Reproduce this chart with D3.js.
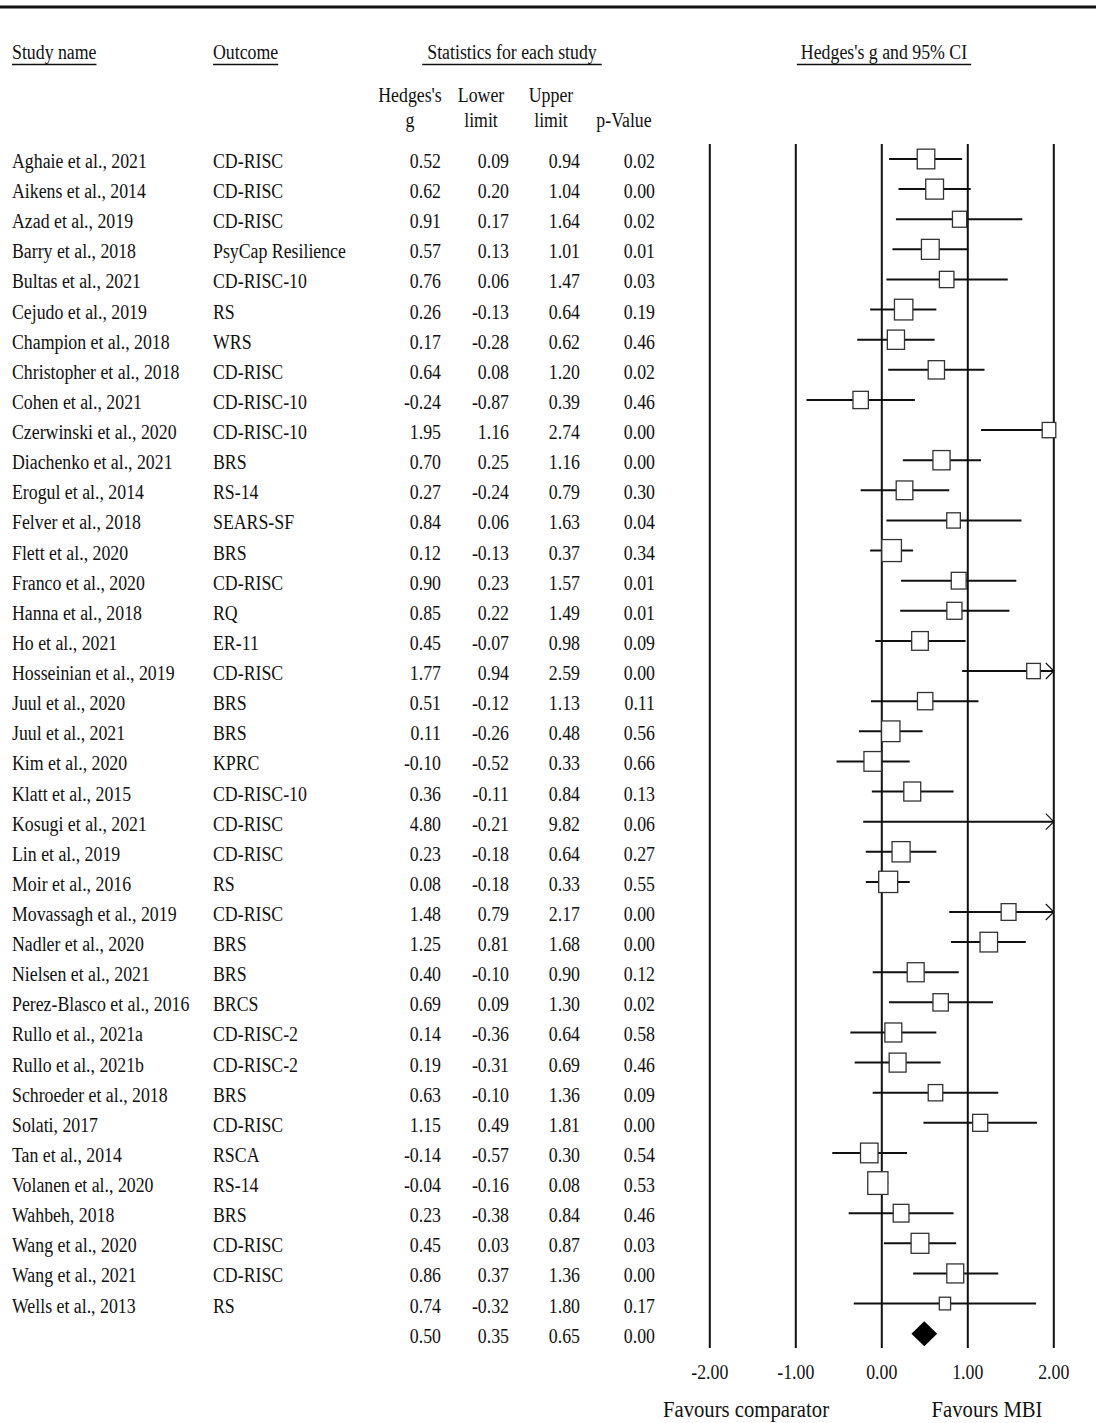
<!DOCTYPE html>
<html>
<head>
<meta charset="utf-8">
<script src="https://cdn.jsdelivr.net/npm/d3@7"></script>
<style>
  html, body { margin: 0; padding: 0; background: #fff; }
  svg { display: block; }
  text { font-family: "Liberation Serif", "Times New Roman", serif; fill: #111; }
</style>
</head>
<body>
<svg id="chart" width="1096" height="1423"></svg>
<script>
// ---------------- DATA ----------------
const studies = [
  "Aghaie et al., 2021", "Aikens et al., 2014", "Azad et al., 2019", "Barry et al., 2018",
  "Bultas et al., 2021", "Cejudo et al., 2019", "Champion et al., 2018", "Christopher et al., 2018",
  "Cohen et al., 2021", "Czerwinski et al., 2020", "Diachenko et al., 2021", "Erogul et al., 2014",
  "Felver et al., 2018", "Flett et al., 2020", "Franco et al., 2020", "Hanna et al., 2018",
  "Ho et al., 2021", "Hosseinian et al., 2019", "Juul et al., 2020", "Juul et al., 2021",
  "Kim et al., 2020", "Klatt et al., 2015", "Kosugi et al., 2021", "Lin et al., 2019",
  "Moir et al., 2016", "Movassagh et al., 2019", "Nadler et al., 2020", "Nielsen et al., 2021",
  "Perez-Blasco et al., 2016", "Rullo et al., 2021a", "Rullo et al., 2021b", "Schroeder et al., 2018",
  "Solati, 2017", "Tan et al., 2014", "Volanen et al., 2020", "Wahbeh, 2018",
  "Wang et al., 2020", "Wang et al., 2021", "Wells et al., 2013"
];
const outcomes = [
  "CD-RISC", "CD-RISC", "CD-RISC", "PsyCap Resilience",
  "CD-RISC-10", "RS", "WRS", "CD-RISC",
  "CD-RISC-10", "CD-RISC-10", "BRS", "RS-14",
  "SEARS-SF", "BRS", "CD-RISC", "RQ",
  "ER-11", "CD-RISC", "BRS", "BRS",
  "KPRC", "CD-RISC-10", "CD-RISC", "CD-RISC",
  "RS", "CD-RISC", "BRS", "BRS",
  "BRCS", "CD-RISC-2", "CD-RISC-2", "BRS",
  "CD-RISC", "RSCA", "RS-14", "BRS",
  "CD-RISC", "CD-RISC", "RS"
];
const hedgesG = [
  0.52, 0.62, 0.91, 0.57, 0.76, 0.26, 0.17, 0.64, -0.24, 1.95,
  0.70, 0.27, 0.84, 0.12, 0.90, 0.85, 0.45, 1.77, 0.51, 0.11,
  -0.10, 0.36, 4.80, 0.23, 0.08, 1.48, 1.25, 0.40, 0.69, 0.14,
  0.19, 0.63, 1.15, -0.14, -0.04, 0.23, 0.45, 0.86, 0.74
];
const lowerLimit = [
  0.09, 0.20, 0.17, 0.13, 0.06, -0.13, -0.28, 0.08, -0.87, 1.16,
  0.25, -0.24, 0.06, -0.13, 0.23, 0.22, -0.07, 0.94, -0.12, -0.26,
  -0.52, -0.11, -0.21, -0.18, -0.18, 0.79, 0.81, -0.10, 0.09, -0.36,
  -0.31, -0.10, 0.49, -0.57, -0.16, -0.38, 0.03, 0.37, -0.32
];
const upperLimit = [
  0.94, 1.04, 1.64, 1.01, 1.47, 0.64, 0.62, 1.20, 0.39, 2.74,
  1.16, 0.79, 1.63, 0.37, 1.57, 1.49, 0.98, 2.59, 1.13, 0.48,
  0.33, 0.84, 9.82, 0.64, 0.33, 2.17, 1.68, 0.90, 1.30, 0.64,
  0.69, 1.36, 1.81, 0.30, 0.08, 0.84, 0.87, 1.36, 1.80
];
const pValue = [
  0.02, 0.00, 0.02, 0.01, 0.03, 0.19, 0.46, 0.02, 0.46, 0.00,
  0.00, 0.30, 0.04, 0.34, 0.01, 0.01, 0.09, 0.00, 0.11, 0.56,
  0.66, 0.13, 0.06, 0.27, 0.55, 0.00, 0.00, 0.12, 0.02, 0.58,
  0.46, 0.09, 0.00, 0.54, 0.53, 0.46, 0.03, 0.00, 0.17
];
// relative weights (%)
const weights = [
  2.97, 3.06, 1.96, 3.06, 2.04, 3.28, 2.85, 2.57, 2.29, 1.79,
  2.85, 2.68, 1.79, 3.71, 2.14, 2.21, 2.68, 1.79, 2.29, 3.28,
  2.97, 2.77, 0.04, 3.16, 3.48, 2.14, 2.97, 2.77, 2.29, 2.77,
  2.77, 2.04, 2.21, 2.97, 3.95, 2.40, 3.06, 2.77, 1.23
];
const summaryG = 0.50, summaryLower = 0.35, summaryUpper = 0.65, summaryP = 0.00;
const tickValues = [-2, -1, 0, 1, 2];
const tickLabels = ["-2.00", "-1.00", "0.00", "1.00", "2.00"];
const columnHeaders = ["Study name", "Outcome", "Statistics for each study", "Hedges's g and 95% CI"];
const statHeaders = [["Hedges's", "g"], ["Lower", "limit"], ["Upper", "limit"], ["", "p-Value"]];
const favourLabels = ["Favours comparator", "Favours MBI"];

// ---------------- LAYOUT ----------------
const SX = 0.89;           // horizontal condensation of the original figure
const FS = 20;
const svg = d3.select("#chart");

const nRows = studies.length;
const rowY = d3.scaleLinear().domain([0, nRows]).range([159, 159 + nRows * 30.12]);
const x = d3.scaleLinear().domain([-2, 2]).range([709.3, 1053.3]);
const size = d3.scaleSqrt().domain([0, d3.max(weights)]).range([0, 22.7]);
const fmt = v => v.toFixed(2);

function label(g, tx, ty, str, anchor, fs, sx) {
  return g.append("text")
    .attr("transform", `translate(${tx},${ty}) scale(${sx == null ? SX : sx},1)`)
    .attr("text-anchor", anchor || "start")
    .attr("font-size", fs || FS)
    .text(str);
}

// top rule
svg.append("line").attr("x1", 0).attr("x2", 1096).attr("y1", 7).attr("y2", 7)
  .attr("stroke", "#111").attr("stroke-width", 3);

// column headers with underlines
const hdr = svg.append("g");
const headerSpecs = [
  { x: 12, anchor: "start", pad: 0 },
  { x: 213, anchor: "start", pad: 0 },
  { x: 512, anchor: "middle", pad: 5 },
  { x: 884, anchor: "middle", pad: 4 }
];
columnHeaders.forEach((h, i) => {
  const s = headerSpecs[i];
  const t = label(hdr, s.x, 59, h, s.anchor);
  const w = t.node().getComputedTextLength() * SX;
  const x0 = s.anchor === "middle" ? s.x - w / 2 : s.x;
  hdr.append("line").attr("x1", x0 - s.pad).attr("x2", x0 + w + s.pad)
    .attr("y1", 64.5).attr("y2", 64.5).attr("stroke", "#111").attr("stroke-width", 1.5);
});

// statistic sub headers
const statCenters = [410, 481, 551, 624];
statHeaders.forEach((pair, i) => {
  if (pair[0]) label(hdr, statCenters[i], 102, pair[0], "middle");
  label(hdr, statCenters[i], 127, pair[1], "middle");
});

// table rows
const valueRight = [441, 509, 580, 655];
const table = svg.append("g");
studies.forEach((s, i) => {
  const by = rowY(i) + 9;
  label(table, 12, by, s, "start");
  label(table, 213, by, outcomes[i], "start");
  [hedgesG[i], lowerLimit[i], upperLimit[i], pValue[i]].forEach((v, j) => {
    label(table, valueRight[j], by, fmt(v), "end");
  });
});
// summary row
[summaryG, summaryLower, summaryUpper, summaryP].forEach((v, j) => {
  label(table, valueRight[j], rowY(nRows) + 9, fmt(v), "end");
});

// ---------------- FOREST PLOT ----------------
const plotTop = 144, plotBottom = 1348;
const axis = d3.axisBottom(x)
  .tickValues(tickValues)
  .tickFormat((d, i) => tickLabels[i])
  .tickSize(-(plotBottom - plotTop))
  .tickPadding(0);
const ax = svg.append("g").attr("transform", `translate(0,${plotBottom})`).call(axis);
ax.select(".domain").remove();
ax.selectAll(".tick line").attr("stroke", "#111").attr("stroke-width", 2);
ax.selectAll(".tick text")
  .attr("y", 31).attr("dy", 0)
  .attr("transform", `scale(${SX},1)`)
  .attr("font-size", FS)
  .attr("font-family", "Liberation Serif, Times New Roman, serif")
  .attr("fill", "#111");

const marks = svg.append("g");
studies.forEach((s, i) => {
  const cy = rowY(i);
  const lo = Math.max(lowerLimit[i], -2), hi = Math.min(upperLimit[i], 2);
  marks.append("line")
    .attr("x1", x(lo)).attr("x2", x(hi)).attr("y1", cy).attr("y2", cy)
    .attr("stroke", "#111").attr("stroke-width", 2);
  if (upperLimit[i] > 2) {
    const xe = x(2) + 0.5;
    marks.append("path")
      .attr("d", `M${xe - 8},${cy - 8}L${xe},${cy}L${xe - 8},${cy + 8}`)
      .attr("fill", "none").attr("stroke", "#111").attr("stroke-width", 1.2);
  }
  if (lowerLimit[i] < -2) {
    const xs = x(-2) - 0.5;
    marks.append("path")
      .attr("d", `M${xs + 8},${cy - 8}L${xs},${cy}L${xs + 8},${cy + 8}`)
      .attr("fill", "none").attr("stroke", "#111").attr("stroke-width", 1.2);
  }
  if (hedgesG[i] >= -2 && hedgesG[i] <= 2) {
    const h = size(weights[i]);
    const w = h * SX;
    marks.append("rect")
      .attr("x", x(hedgesG[i]) - w / 2).attr("y", cy - h / 2)
      .attr("width", w).attr("height", h)
      .attr("fill", "#fff").attr("stroke", "#333").attr("stroke-width", 1.3);
  }
});

// summary diamond
const sy = rowY(nRows);
marks.append("path")
  .attr("d", `M${x(summaryLower)},${sy}L${x(summaryG)},${sy - 12.5}L${x(summaryUpper)},${sy}L${x(summaryG)},${sy + 12.5}Z`)
  .attr("fill", "#000");

// favours labels
label(svg, 746, 1417, favourLabels[0], "middle", 23, 0.9);
label(svg, 987, 1417, favourLabels[1], "middle", 23, 0.9);
</script>
</body>
</html>
